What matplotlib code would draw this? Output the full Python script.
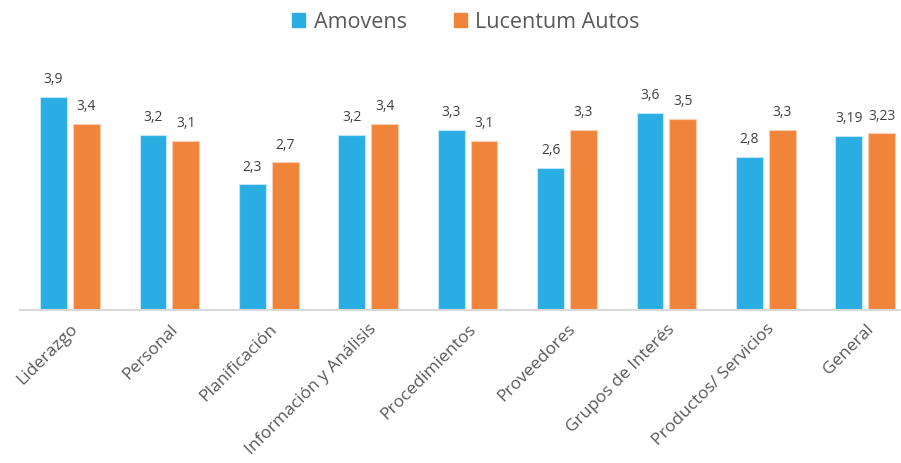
import matplotlib.pyplot as plt
from matplotlib.patches import Patch
import numpy as np

plt.rcParams['font.family'] = ['Open Sans', 'DejaVu Sans']

categories = ['Liderazgo', 'Personal', 'Planificación', 'Información y Análisis',
              'Procedimientos', 'Proveedores', 'Grupos de Interés',
              'Productos/ Servicios', 'General']
amovens = [3.9, 3.2, 2.3, 3.2, 3.3, 2.6, 3.6, 2.8, 3.19]
lucentum = [3.4, 3.1, 2.7, 3.4, 3.1, 3.3, 3.5, 3.3, 3.23]
series_names = ['Amovens', 'Lucentum Autos']

blue = '#29ADE3'
orange = '#F0843B'
W, H = 901, 463

fig = plt.figure(figsize=(W / 100, H / 100), dpi=100)
ax = fig.add_axes([20 / W, (H - 310) / H, (W - 20) / W, 246 / H])

x = np.arange(len(categories))
bw = 0.27
off = 0.165
b1 = ax.bar(x - off, amovens, bw, color=blue, edgecolor='#BEE6F7', linewidth=0.8)
b2 = ax.bar(x + off, lucentum, bw, color=orange, edgecolor='#F9CDAE', linewidth=0.8)

for bars, vals in [(b1, amovens), (b2, lucentum)]:
    for rect, v in zip(bars, vals):
        ax.annotate(str(v).replace('.', ','),
                    (rect.get_x() + rect.get_width() / 2, rect.get_height()),
                    xytext=(0, 7), textcoords='offset points',
                    ha='center', va='bottom', fontsize=10, color='#404040')

ax.set_xlim(-0.503, 8.36)
ax.set_ylim(0, 4.5)
ax.set_yticks([])
ax.set_xticks(x)
ax.set_xticklabels(categories, rotation=45, ha='right', va='top',
                   rotation_mode='anchor', fontsize=12.5, color='#595959')
ax.tick_params(axis='x', length=0, pad=8)
for s in ['top', 'right', 'left']:
    ax.spines[s].set_visible(False)
ax.spines['bottom'].set_color('#D9D9D9')
ax.spines['bottom'].set_linewidth(1.5)

handles = [Patch(color=blue), Patch(color=orange)]
fig.legend(handles, series_names, loc='center', bbox_to_anchor=(466 / W, 1 - 22 / H),
           ncol=2, frameon=False, fontsize=15.5, labelcolor='#595959',
           handlelength=0.6, handleheight=0.6, handletextpad=0.4,
           columnspacing=2.2)

fig.savefig('out.png', dpi=100)
